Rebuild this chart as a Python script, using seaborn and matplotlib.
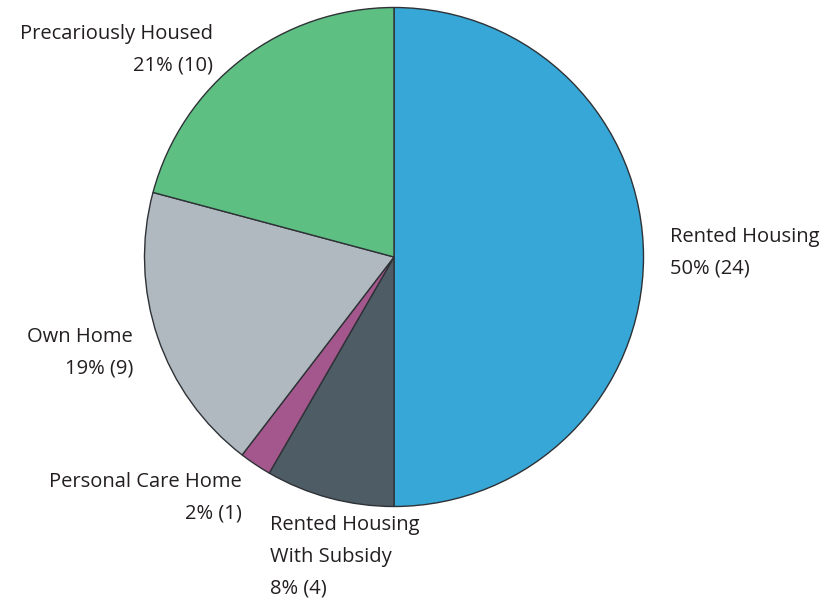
import matplotlib
matplotlib.use("Agg")
import matplotlib.pyplot as plt
import seaborn as sns

# Housing situation of respondents (counts)
categories = ["Rented Housing", "Rented Housing\nWith Subsidy", "Personal Care Home",
              "Own Home", "Precariously Housed"]
counts = [24, 4, 1, 9, 10]
colors = ["#36A7D6", "#4E5C65", "#A4578D", "#B1B9C0", "#5EBF83"]

sns.set_theme(style="white")
plt.rcParams["font.family"] = ["Open Sans", "DejaVu Sans"]

W, H, DPI = 827, 602, 100
fig = plt.figure(figsize=(W / DPI, H / DPI), dpi=DPI)
ax = fig.add_axes([0, 0, 1, 1])

# pie centre and radius expressed in pixels, mapped to data units
cx, cy, r = 394.0, 257.0, 249.5

ax.pie(counts, colors=colors, startangle=90, counterclock=False,
       radius=1.0, center=(0, 0), frame=False,
       wedgeprops=dict(edgecolor="#2E3236", linewidth=1.0))
ax.set_xlim(-cx / r, (W - cx) / r)
ax.set_ylim(-(H - cy) / r, cy / r)
ax.set_aspect("auto")
ax.axis("off")

total = sum(counts)
labels = [f"{c}\n{round(100 * n / total)}% ({n})" for c, n in zip(categories, counts)]

def px(x, y):
    return (x - cx) / r, (cy - y) / r

# label anchor (pixels): x, top edge y, horizontal alignment
anchors = [
    (670, 227, "left"),
    (270, 515, "left"),
    (242, 472, "right"),
    (133, 327, "right"),
    (213, 24, "right"),
]
for lab, (x, y, ha) in zip(labels, anchors):
    tx, ty = px(x, y)
    ax.text(tx, ty, lab, ha=ha, va="top", multialignment=ha,
            fontsize=14.5, color="#231F20", linespacing=1.78)

fig.savefig("out.png", dpi=DPI, facecolor="white")
